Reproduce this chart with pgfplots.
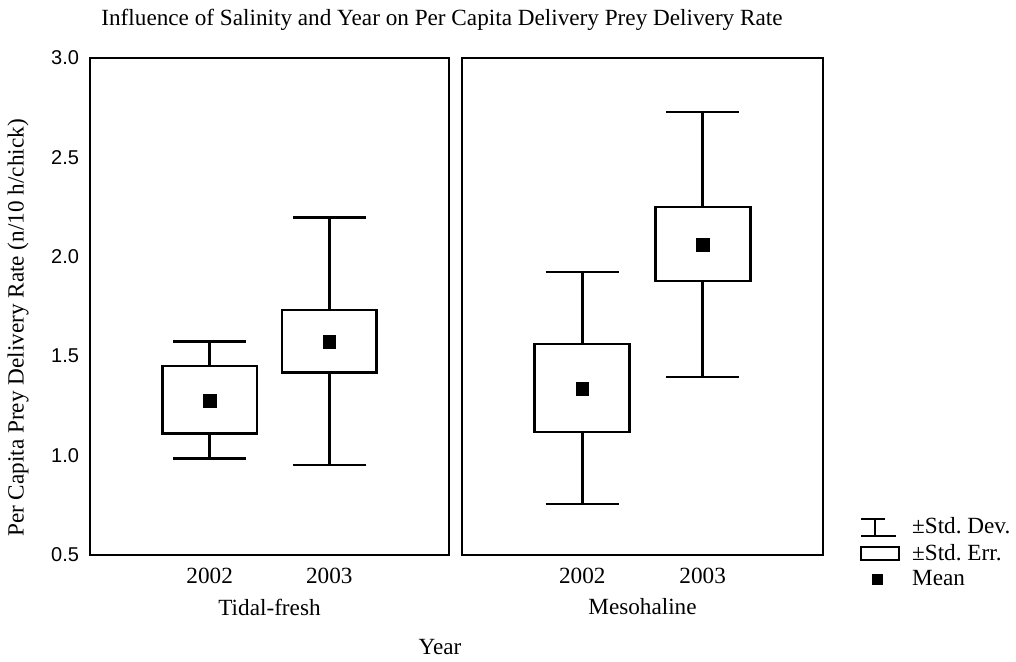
\documentclass[border=0pt]{standalone}
\usepackage{fontspec}
\setmainfont{Liberation Serif}
\newfontfamily\arialfont{Liberation Sans}
\usepackage{pgfplots}
\pgfplotsset{compat=1.18}
\usepgfplotslibrary{statistics}

\newcommand{\txtfont}{\fontsize{11.6}{13}\selectfont}

\begin{document}
\frenchspacing
\begin{tikzpicture}
\path[use as bounding box] (0,0) rectangle (508pt,331pt);
\pgfplotsset{
  panel/.style={
    scale only axis,
    height=248.5pt,
    xmin=0, xmax=3, ymin=0.5, ymax=3.0,
    xtick={1,2}, xticklabels={2002,2003},
    major tick length=0pt,
    axis line style={line width=1.4pt},
    xticklabel style={font=\txtfont, yshift=-3pt},
    every axis x label/.style={at={(axis description cs:0.5,0)}, anchor=center, yshift=-26pt, font=\txtfont},
    clip=false,
  },
  mybox/.style={draw=black, fill=white, line width=1.4pt, solid,
    boxplot/draw direction=y,
    boxplot/box extend=0.79, boxplot/whisker extend=0.61,
    boxplot/draw/median/.code={}},
  mymean/.style={only marks, mark=square*, mark size=3.2pt, mark options={fill=black, draw=black}},
}

\begin{axis}[panel, at={(45pt,53.5pt)}, anchor=south west, width=179.5pt,
  ytick={0.5,1.0,1.5,2.0,2.5,3.0},
  yticklabel style={font=\arialfont\fontsize{10}{11}\selectfont, xshift=-2pt},
  /pgf/number format/fixed, /pgf/number format/fixed zerofill, /pgf/number format/precision=1, /pgf/number format/assume math mode=true,
  xlabel={Tidal-fresh}]
\addplot[mybox, boxplot prepared={draw position=1, lower whisker=0.986, lower quartile=1.112, median=1.275, upper quartile=1.451, upper whisker=1.573}] coordinates {};
\addplot[mybox, boxplot prepared={draw position=2, lower whisker=0.953, lower quartile=1.419, median=1.573, upper quartile=1.732, upper whisker=2.197}] coordinates {};
\addplot[mymean] coordinates {(1,1.275) (2,1.573)};
\end{axis}

\begin{axis}[panel, at={(231pt,53.5pt)}, anchor=south west, width=180.5pt,
  ytick=\empty,
  xlabel={Mesohaline},
  legend style={draw=none, fill=none, font=\txtfont, inner sep=0pt, outer sep=0pt,
    at={(axis description cs:1.1025,0.004)}, anchor=west, row sep=-0.5pt,
    cells={anchor=west}},
  legend cell align=left]
\addplot[mybox, boxplot prepared={draw position=1, lower whisker=0.757, lower quartile=1.119, median=1.335, upper quartile=1.561, upper whisker=1.924},
  legend image code/.code={
    \draw[line width=1.2pt] (0pt,4.3pt) -- (12pt,4.3pt);
    \draw[line width=1.2pt] (7pt,4.3pt) -- (7pt,-4.3pt);
    \draw[line width=1.2pt] (0pt,-4.3pt) -- (17.5pt,-4.3pt);
  }] coordinates {};
\addlegendentry{\,\,±Std. Dev.}
\addplot[mybox, boxplot prepared={draw position=2, lower whisker=1.395, lower quartile=1.878, median=2.059, upper quartile=2.250, upper whisker=2.728},
  legend image code/.code={
    \draw[line width=1.2pt, fill=white] (0pt,-3.2pt) rectangle (19pt,3.2pt);
  }] coordinates {};
\addlegendentry{\,\,±Std. Err.}
\addplot[mymean, legend image code/.code={
    \fill[black] (5.5pt,-2.5pt) rectangle (10.5pt,2.5pt);
  }] coordinates {(1,1.335) (2,2.059)};
\addlegendentry{\,\,Mean}
\end{axis}

\node[font=\txtfont] at (221pt,321pt) {Influence of Salinity and Year on Per Capita Delivery Prey Delivery Rate};
\node[font=\txtfont, rotate=90] at (9pt,167pt) {Per Capita Prey Delivery Rate (n/10 h/chick)};
\node[font=\txtfont] at (220pt,7.5pt) {Year};
\end{tikzpicture}
\end{document}
